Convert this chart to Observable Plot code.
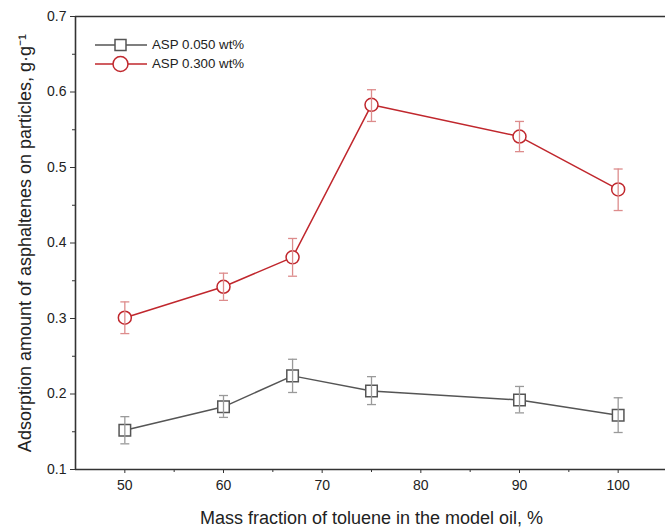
<!DOCTYPE html>
<html>
<head>
<meta charset="utf-8">
<script src="https://cdn.jsdelivr.net/npm/d3@7"></script>
<script src="https://cdn.jsdelivr.net/npm/@observablehq/plot@0.6"></script>
<style>
  html, body { margin: 0; padding: 0; background: #fff; }
  #wrap { position: relative; width: 665px; height: 530px; font-family: "Liberation Sans", Arial, sans-serif; }
  #legend { position: absolute; left: 95px; top: 35px; font-size: 13.3px; color: #222; }
  #legend .row { display: flex; align-items: center; height: 19px; }
  #legend svg { margin-right: 5px; }
</style>
</head>
<body>
<div id="wrap"><div id="legend"></div></div>
<script>
const toluene = [50, 60, 67, 75, 90, 100];
const asp050 = [0.152, 0.183, 0.224, 0.204, 0.192, 0.172];
const asp050Lo = [0.134, 0.169, 0.202, 0.186, 0.175, 0.149];
const asp050Hi = [0.170, 0.198, 0.246, 0.223, 0.210, 0.195];
const asp300 = [0.301, 0.342, 0.381, 0.583, 0.541, 0.471];
const asp300Lo = [0.280, 0.324, 0.356, 0.561, 0.521, 0.443];
const asp300Hi = [0.322, 0.360, 0.406, 0.603, 0.561, 0.498];

const seriesNames = ["ASP 0.050 wt%", "ASP 0.300 wt%"];
const xMajorTicks = [50, 60, 70, 80, 90, 100];
const xMinorTicks = [55, 65, 75, 85, 95];
const yMajorTicks = [0.1, 0.2, 0.3, 0.4, 0.5, 0.6, 0.7];
const yMinorTicks = [0.15, 0.25, 0.35, 0.45, 0.55, 0.65];

const lineColor = ["#555555", "#c0272d"];
const errColor = ["#9a9a9a", "#dd8c8c"];
const symbols = ["square", "circle"];

const rows = (vals, lo, hi) => toluene.map((x, i) => ({x, y: vals[i], lo: lo[i], hi: hi[i]}));
const s1 = rows(asp050, asp050Lo, asp050Hi);
const s2 = rows(asp300, asp300Lo, asp300Hi);

const cap = {draw(ctx) { ctx.moveTo(-4.5, 0); ctx.lineTo(4.5, 0); }};

function seriesMarks(data, k) {
  return [
    Plot.line(data, {x: "x", y: "y", stroke: lineColor[k], strokeWidth: 1.5}),
    Plot.dot(data, {x: "x", y: "y", symbol: symbols[k], r: 6.5, fill: "white", stroke: lineColor[k], strokeWidth: 1.5}),
    Plot.ruleX(data, {x: "x", y1: "lo", y2: "hi", stroke: errColor[k], strokeWidth: 1.3}),
    Plot.dot(data, {x: "x", y: "lo", symbol: cap, stroke: errColor[k], strokeWidth: 1.3}),
    Plot.dot(data, {x: "x", y: "hi", symbol: cap, stroke: errColor[k], strokeWidth: 1.3})
  ];
}

const chart = Plot.plot({
  width: 665,
  height: 530,
  marginLeft: 75,
  marginRight: -2,
  marginTop: 16,
  marginBottom: 61,
  style: {fontFamily: "'Liberation Sans', Arial, sans-serif", color: "#222", background: "white"},
  x: {domain: [45, 105]},
  y: {domain: [0.1, 0.7]},
  marks: [
    Plot.ruleY([0.7], {stroke: "#333", strokeWidth: 1.6}),
    Plot.axisY(yMajorTicks, {tickSize: 5, tickPadding: 4, tickFormat: d3.format(".1f"),
      label: "Adsorption amount of asphaltenes on particles, g·g⁻¹", labelAnchor: "center", labelArrow: "none", labelOffset: 57, stroke: "#333"}),
    Plot.axisY(yMinorTicks, {tickSize: 3, text: null, label: null, stroke: "#333"}),
    Plot.axisX(xMajorTicks, {tickSize: 4, tickPadding: 7, 
      label: "Mass fraction of toluene in the model oil, %", labelAnchor: "center", labelArrow: "none", labelOffset: 54, stroke: "#333"}),
    Plot.axisX(xMinorTicks, {tickSize: 3, text: null, label: null, stroke: "#333"}),
    Plot.ruleX([45], {stroke: "#333", strokeWidth: 1.6}),
    Plot.ruleY([0.1], {stroke: "#333", strokeWidth: 1.6}),
    ...seriesMarks(s1, 0),
    ...seriesMarks(s2, 1)
  ]
});
chart.querySelectorAll("[aria-label='y-axis tick label'], [aria-label='x-axis tick label']").forEach(g => g.setAttribute("font-size", "14"));
chart.querySelectorAll("[aria-label='y-axis tick label'] text, [aria-label='x-axis tick label'] text").forEach(t => t.style.fontSize = "14px");
chart.querySelectorAll("[aria-label='y-axis label'] text, [aria-label='x-axis label'] text").forEach(t => t.style.fontSize = "18px");
document.getElementById("wrap").prepend(chart);

const legend = document.getElementById("legend");
seriesNames.forEach((name, k) => {
  const row = document.createElement("div");
  row.className = "row";
  const marker = k === 0
    ? `<rect x="20" y="4.5" width="11" height="11" fill="white" stroke="${lineColor[k]}" stroke-width="1.5"/>`
    : `<circle cx="25.5" cy="10" r="7.5" fill="white" stroke="${lineColor[k]}" stroke-width="1.5"/>`;
  row.innerHTML = `<svg width="52" height="20"><line x1="0" x2="52" y1="10" y2="10" stroke="${lineColor[k]}" stroke-width="1.5"/>${marker}</svg><span>${name}</span>`;
  legend.appendChild(row);
});
</script>
</body>
</html>
